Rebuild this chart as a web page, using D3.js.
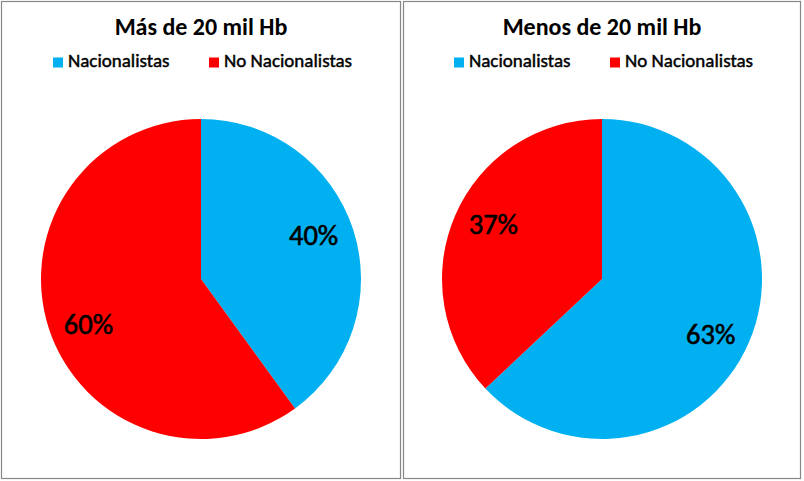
<!DOCTYPE html>
<html><head><meta charset="utf-8">
<script src="https://cdn.jsdelivr.net/npm/d3@7"></script>
<style>
html,body{margin:0;padding:0;background:#fff;}
svg{display:block;}
text{font-family:Carlito,Lato,"Open Sans",sans-serif;}
</style></head>
<body>
<svg id="chart" width="804" height="481"></svg>
<script>
const categories = ["Nacionalistas", "No Nacionalistas"];
const titles = ["Más de 20 mil Hb", "Menos de 20 mil Hb"];
const valuesMas = [40, 60];
const valuesMenos = [63, 37];
const colors = ["#00B0F0", "#FF0000"];

const svg = d3.select("#chart");
const panels = [
  {title: titles[0], values: valuesMas, x0: 1, x1: 401},
  {title: titles[1], values: valuesMenos, x0: 403, x1: 801}
];
const color = d3.scaleOrdinal().domain(categories).range(colors);
const pie = d3.pie().sort(null).value(d => d.v);
const R = 160;
const arc = d3.arc().innerRadius(0).outerRadius(R);
const labelArc = d3.arc().innerRadius(R * 0.74).outerRadius(R * 0.74);

panels.forEach(p => {
  const g = svg.append("g");
  g.append("rect").attr("x", p.x0 + 0.5).attr("y", 1.5)
    .attr("width", p.x1 - p.x0 - 1).attr("height", 477)
    .attr("fill", "#fff").attr("stroke", "#878787").attr("stroke-width", 1.2);
  const cx = (p.x0 + p.x1) / 2;
  g.append("text").attr("x", cx).attr("y", 35).attr("text-anchor", "middle")
    .attr("font-size", 24).attr("font-weight", "bold").attr("fill", "#000").text(p.title);

  // legend
  const lg = g.append("g");
  const items = [{k: categories[0], dx: -148}, {k: categories[1], dx: 8}];
  items.forEach(it => {
    lg.append("rect").attr("x", cx + it.dx).attr("y", 57.5).attr("width", 10).attr("height", 10)
      .attr("fill", color(it.k));
    lg.append("text").attr("x", cx + it.dx + 15).attr("y", 67)
      .attr("font-size", 19).attr("fill", "#000")
      .attr("stroke", "#000").attr("stroke-width", 0.45).text(it.k);
  });

  const data = categories.map((k, i) => ({k, v: p.values[i]}));
  const pg = g.append("g").attr("transform", `translate(${cx},279)`);
  const arcs = pie(data);
  pg.selectAll("path").data(arcs).join("path")
    .attr("d", arc).attr("fill", d => color(d.data.k));
  pg.selectAll("text").data(arcs).join("text")
    .attr("transform", d => {
      const [x, y] = labelArc.centroid(d);
      return `translate(${x},${y + Math.sign(y) * 8})`;
    })
    .attr("text-anchor", "middle").attr("dy", "0.36em")
    .attr("font-size", 28.5).attr("fill", "#000")
    .attr("stroke", "#000").attr("stroke-width", 0.6)
    .text(d => d.data.v + "%");
});
</script>
</body></html>
